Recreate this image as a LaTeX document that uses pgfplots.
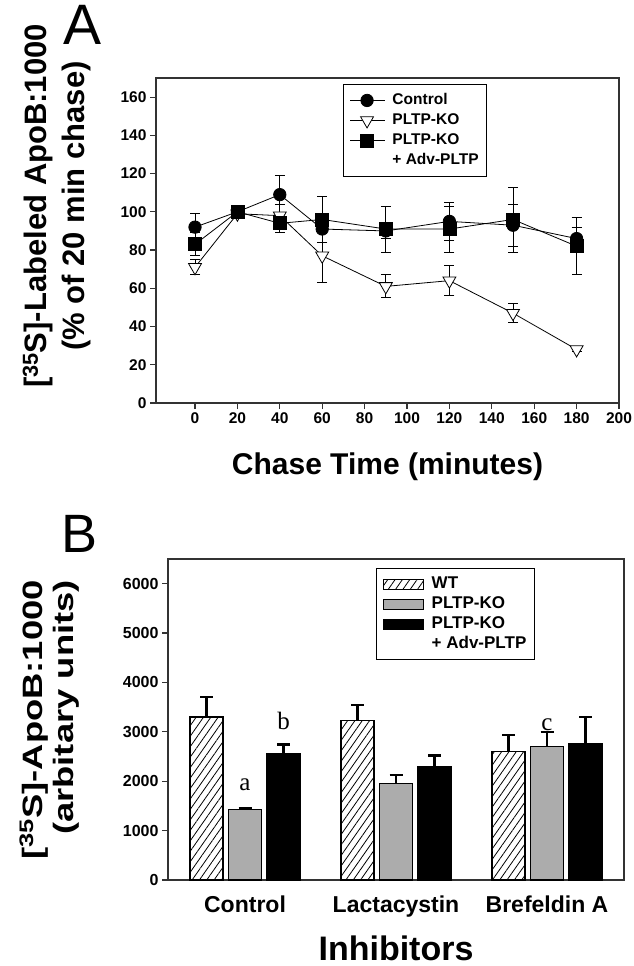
\documentclass[border=0pt]{standalone}
\usepackage{fontspec}
\setmainfont{Liberation Sans}
\newfontfamily\timesfont{Liberation Serif}
\usepackage{pgfplots}
\pgfplotsset{compat=1.18}
\usetikzlibrary{patterns.meta}
\definecolor{barGray}{RGB}{172,172,172}

% chase-time data (panel A), value and SEM
\pgfplotstableread{
t   m    e
0   92   7
20  100  2
40  109  10
60  91   7
90  90   4
120 95   10
150 93   11
180 86   6
}\ctrl
\pgfplotstableread{
t   m    e
0   71   4
20  99   2
40  98   6
60  77   14
90  61   6
120 64   8
150 47   5
180 28   1
}\ko
\pgfplotstableread{
t   m    e
0   83   6
20  100  2
40  94   5
60  96   12
90  91   12
120 91   12
150 96   17
180 82   15
}\adv
% inhibitors (panel B)
\pgfplotstableread{
x  wt   wte  ko   koe  ad   ade
0  3300 400  1420 30   2560 185
1  3230 320  1960 165  2290 230
2  2610 320  2700 295  2760 540
}\inhib

\begin{document}
\begin{tikzpicture}
\useasboundingbox (0pt,0pt) rectangle (633pt,-966pt);

\pgfplotsset{
  every axis/.append style={
    scale only axis,
    axis line style={line width=1.3pt, black!80},
    tick style={line width=1.2pt, black!80},
    major tick length=6pt,
    tick align=outside,
    tick pos=left,
    /pgf/number format/assume math mode=true,
    /pgf/number format/1000 sep={},
    scaled ticks=false,
    tick label style={font=\fontsize{15.5}{18}\selectfont\bfseries},
    legend cell align=left,
  }
}

%------------------ panel A
\node[anchor=base, font=\fontsize{57}{57}\selectfont] at (83pt,-45pt) {A};
\node[rotate=90, align=center, font=\fontsize{31}{38}\selectfont\bfseries]
  at (57pt,-206pt) {[\textsuperscript{35}S]-Labeled ApoB:1000\\(\% of 20 min chase)};

\begin{axis}[
  at={(156pt,-403pt)}, anchor=south west,
  width=463pt, height=325pt,
  xmin=-18.4, xmax=200, ymin=0, ymax=170,
  xtick={0,20,...,200}, ytick={0,20,...,160},
  xlabel={Chase Time (minutes)},
  xlabel style={font=\fontsize{30}{34}\selectfont\bfseries, yshift=-22pt},
  legend style={at={(0.404,0.982)}, anchor=north west, draw=black, line width=1.2pt,
    font=\fontsize{15.5}{18}\selectfont\bfseries, row sep=2pt,
    inner xsep=6pt, inner ysep=7pt,
    nodes={inner sep=2pt, text height=11pt, text depth=3pt}},
  legend image code/.code={\draw[mark repeat=2,mark phase=2,#1] plot coordinates {(0pt,0pt) (17pt,0pt) (35pt,0pt)};
    \path (40pt,0pt);},
  error bars/y dir=both, error bars/y explicit,
  error bars/error bar style={line width=0.9pt, black},
  error bars/error mark options={rotate=90, line width=0.9pt, mark size=5pt, black},
]
\addplot[black, line width=0.8pt, mark=*, mark size=6.2pt]
  table[x=t, y=m, y error=e] {\ctrl};
\addlegendentry{Control}
\addplot[black, line width=0.8pt, mark=triangle*, mark size=7.5pt,
  mark options={rotate=180, fill=white, line width=0.8pt}]
  table[x=t, y=m, y error=e] {\ko};
\addlegendentry{PLTP-KO}
\addplot[black, line width=0.8pt, mark=square*, mark size=6.5pt]
  table[x=t, y=m, y error=e] {\adv};
\addlegendentry{PLTP-KO}
\addlegendimage{empty legend}
\addlegendentry{+ Adv-PLTP}
\end{axis}

%------------------ panel B
\node[anchor=base, font=\fontsize{54}{54}\selectfont] at (80pt,-552pt) {B};
\node[rotate=90, font=\fontsize{28}{31}\selectfont\bfseries] at (51pt,-720pt)
  {\scalebox{1.3}[1]{\begin{tabular}{@{}r@{}}[\textsuperscript{35}S]-ApoB:1000\\(arbitary units)\end{tabular}}};

\begin{axis}[
  at={(168pt,-880pt)}, anchor=south west,
  width=456pt, height=321pt,
  xmin=-0.51, xmax=2.51, ymin=0, ymax=6500,
  ytick={0,1000,...,6000},
  xtick={0,1,2}, xticklabels={Control,Lactacystin,Brefeldin A},
  x tick style={draw=none},
  yticklabel style={font=\fontsize{16}{18}\selectfont\bfseries},
  xticklabel style={font=\fontsize{23}{26}\selectfont\bfseries, yshift=-6pt},
  xlabel={Inhibitors},
  xlabel style={font=\fontsize{34}{38}\selectfont\bfseries, yshift=-12pt},
  ybar=5.5pt, bar width=33pt,
  legend style={at={(0.456,0.972)}, anchor=north west, draw=black, line width=1.2pt,
    font=\fontsize{17}{20}\selectfont\bfseries, row sep=1pt,
    inner xsep=6pt, inner ysep=6pt,
    nodes={inner sep=2pt, text height=12pt, text depth=3pt}},
  legend image code/.code={\draw[#1] (0pt,-5pt) rectangle (40pt,5pt); \path (46pt,0pt);},
  error bars/y dir=plus, error bars/y explicit,
  error bars/error bar style={line width=2.2pt, black},
  error bars/error mark options={rotate=90, line width=2.2pt, mark size=6.5pt, black},
]
\addplot[draw=black, line width=1.2pt, fill=white,
  pattern={Lines[angle=55, distance=6pt, line width=0.8pt]}]
  table[x=x, y=wt, y error=wte] {\inhib};
\addlegendentry{WT}
\addplot[draw=black, line width=1.2pt, fill=barGray]
  table[x=x, y=ko, y error=koe] {\inhib};
\addlegendentry{PLTP-KO}
\addplot[draw=black, line width=1.2pt, fill=black]
  table[x=x, y=ad, y error=ade] {\inhib};
\addlegendentry{PLTP-KO}
\addlegendimage{empty legend}
\addlegendentry{+ Adv-PLTP}

\node[font=\timesfont\fontsize{25}{28}\selectfont] at (axis cs:0,1920) {a};
\node[font=\timesfont\fontsize{25}{28}\selectfont] at ([xshift=38.5pt]axis cs:0,3230) {b};
\node[font=\timesfont\fontsize{25}{28}\selectfont] at (axis cs:2,3150) {c};
\end{axis}
\end{tikzpicture}
\end{document}
